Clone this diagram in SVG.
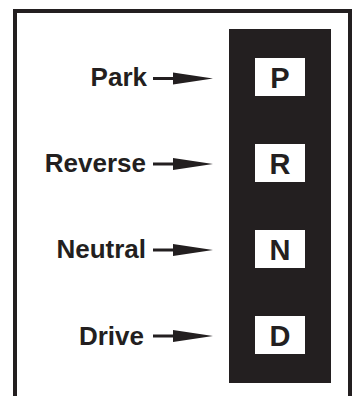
<svg xmlns="http://www.w3.org/2000/svg" width="354" height="396" viewBox="0 0 354 396">
<style>
.lbl{font-family:"Liberation Sans",Arial,sans-serif;font-weight:bold;font-size:26px;fill:#231f20;text-anchor:end}
.gear{font-family:"Liberation Sans",Arial,sans-serif;font-weight:bold;font-size:29px;fill:#231f20;text-anchor:middle}
.box{fill:#ffffff}
.shaft{stroke:#231f20;stroke-width:3;fill:none}
.head{fill:#231f20}
</style>
<defs>
<g id="arrow">
<line class="shaft" x1="153" y1="0" x2="176" y2="0"/>
<polygon class="head" points="173,-6 213,0 173,6"/>
</g>
</defs>
<rect x="0" y="0" width="354" height="396" fill="#ffffff"/>
<path d="M15,396 V11 H350 V396" fill="none" stroke="#231f20" stroke-width="4"/>
<rect id="selector" x="229" y="29" width="102" height="354" fill="#231f20"/>
<g id="park">
<text class="lbl" x="147" y="86">Park</text>
<rect class="box" x="255" y="58" width="50" height="38"/>
<text class="gear" x="280" y="88">P</text>
</g>
<g id="reverse">
<text class="lbl" x="146" y="172">Reverse</text>
<rect class="box" x="255" y="144" width="50" height="38"/>
<text class="gear" x="280" y="174">R</text>
</g>
<g id="neutral">
<text class="lbl" x="146" y="258">Neutral</text>
<rect class="box" x="255" y="230" width="50" height="38"/>
<text class="gear" x="280" y="260">N</text>
</g>
<g id="drive">
<text class="lbl" x="144" y="345">Drive</text>
<rect class="box" x="255" y="316" width="50" height="38"/>
<text class="gear" x="280" y="346">D</text>
</g>
<g id="connectors">
<use href="#arrow" transform="translate(0,78.5)"/>
<use href="#arrow" transform="translate(0,164)"/>
<use href="#arrow" transform="translate(0,250)"/>
<use href="#arrow" transform="translate(0,336)"/>
</g>
</svg>
